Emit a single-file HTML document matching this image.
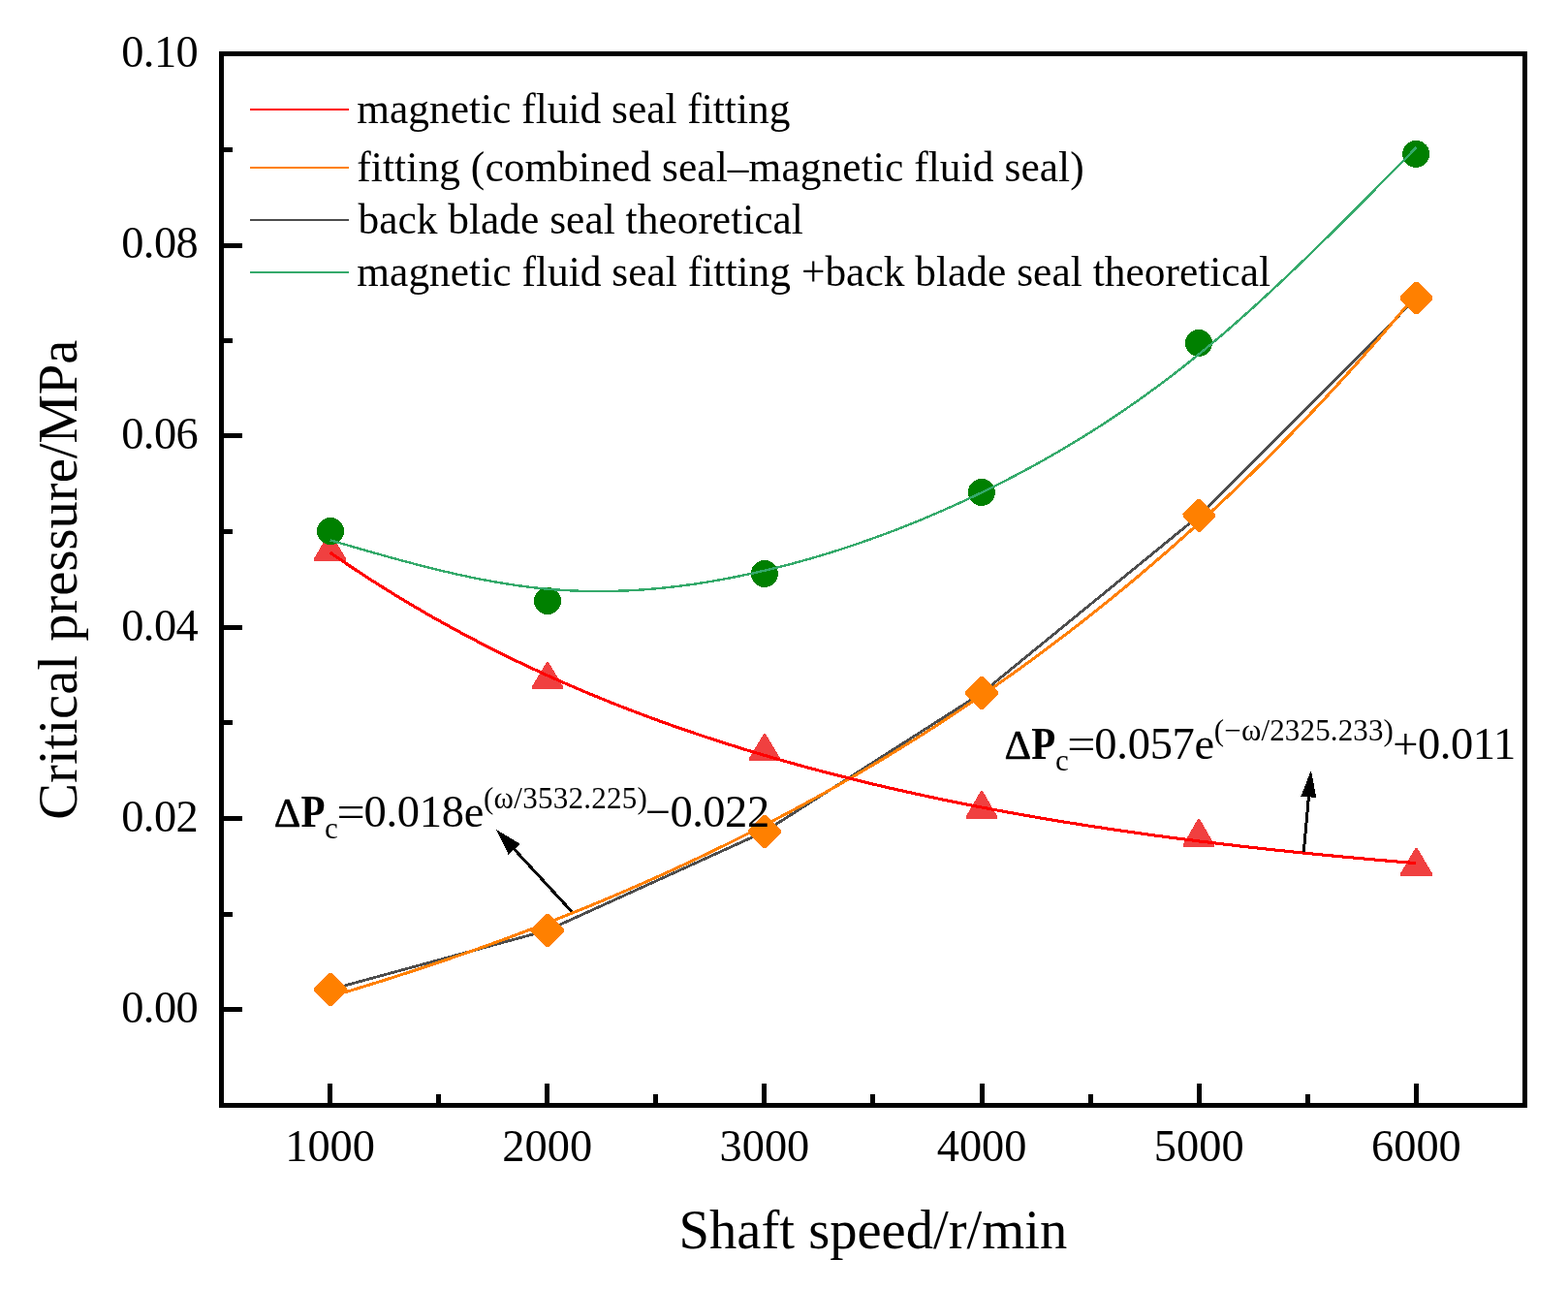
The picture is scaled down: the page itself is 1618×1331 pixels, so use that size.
<!DOCTYPE html>
<html lang="en"><head><meta charset="utf-8"><title>Critical pressure vs shaft speed</title>
<style>
html,body{margin:0;padding:0;background:#fff;}
body{width:1618px;height:1331px;overflow:hidden;}
svg{display:block;}
text{font-family:"Liberation Serif","DejaVu Serif",serif;fill:#000;white-space:pre;}
.tk{font-size:46.4px;}
.lg{font-size:43.4px;}
.ti{font-size:56.6px;}
.an{font-size:46.5px;}
.ss{font-size:31px;}
.b{font-weight:bold;}
.dl{font-size:43px;stroke:#000;stroke-width:0.6px;stroke-linejoin:round;}
</style></head><body>
<svg width="1618" height="1331" viewBox="0 0 1618 1331" role="img" aria-label="Critical pressure versus shaft speed">
<rect x="0" y="0" width="1618" height="1331" fill="#fff"/>
<g id="tri" fill="#F04040" shape-rendering="crispEdges">
<polygon points="339.50,550.10 341.50,550.10 356.90,575.90 356.90,578.90 324.10,578.90 324.10,575.90 339.50,550.10"/>
<polygon points="564.00,683.10 566.00,683.10 580.90,707.90 580.90,710.90 549.10,710.90 549.10,707.90 564.00,683.10"/>
<polygon points="788.00,757.10 790.00,757.10 804.90,781.90 804.90,784.90 773.10,784.90 773.10,781.90 788.00,757.10"/>
<polygon points="1012.00,816.10 1014.00,816.10 1028.90,841.90 1028.90,844.90 997.10,844.90 997.10,841.90 1012.00,816.10"/>
<polygon points="1236.00,845.10 1238.00,845.10 1252.90,870.90 1252.90,873.90 1221.10,873.90 1221.10,870.90 1236.00,845.10"/>
<polygon points="1460.50,875.10 1462.50,875.10 1477.90,900.90 1477.90,903.90 1445.10,903.90 1445.10,900.90 1460.50,875.10"/>
</g>
<path d="M340.90,1021.00 L564.90,959.90 L789.10,858.00 L1013.20,715.00 L1237.40,532.00 L1461.50,307.50" fill="none" stroke="#4D4D4D" stroke-width="2.8" stroke-linejoin="round" shape-rendering="crispEdges"/>
<path d="M340.58,1028.32 L349.92,1025.56 L359.26,1022.77 L368.60,1019.95 L377.94,1017.09 L387.28,1014.20 L396.62,1011.28 L405.97,1008.32 L415.31,1005.32 L424.65,1002.29 L433.99,999.23 L443.33,996.12 L452.67,992.98 L462.01,989.81 L471.35,986.59 L480.69,983.34 L490.03,980.05 L499.37,976.72 L508.71,973.35 L518.05,969.94 L527.39,966.49 L536.73,963.00 L546.07,959.47 L555.41,955.89 L564.75,952.28 L574.09,948.62 L583.43,944.92 L592.77,941.17 L602.11,937.38 L611.45,933.54 L620.79,929.66 L630.13,925.73 L639.47,921.76 L648.81,917.74 L658.15,913.67 L667.49,909.55 L676.83,905.38 L686.17,901.17 L695.51,896.90 L704.85,892.58 L714.19,888.22 L723.53,883.80 L732.88,879.32 L742.22,874.80 L751.56,870.22 L760.90,865.59 L770.24,860.90 L779.58,856.15 L788.92,851.35 L798.26,846.50 L807.60,841.58 L816.94,836.61 L826.28,831.58 L835.62,826.49 L844.96,821.33 L854.30,816.12 L863.64,810.85 L872.98,805.51 L882.32,800.11 L891.66,794.64 L901.00,789.11 L910.34,783.52 L919.68,777.85 L929.02,772.12 L938.36,766.33 L947.70,760.46 L957.04,754.53 L966.38,748.52 L975.72,742.44 L985.06,736.29 L994.40,730.07 L1003.74,723.77 L1013.08,717.40 L1022.42,710.96 L1031.76,704.43 L1041.10,697.83 L1050.44,691.16 L1059.78,684.40 L1069.12,677.56 L1078.47,670.64 L1087.81,663.64 L1097.15,656.55 L1106.49,649.39 L1115.83,642.13 L1125.17,634.79 L1134.51,627.37 L1143.85,619.85 L1153.19,612.25 L1162.53,604.55 L1171.87,596.77 L1181.21,588.89 L1190.55,580.92 L1199.89,572.85 L1209.23,564.69 L1218.57,556.43 L1227.91,548.07 L1237.25,539.62 L1246.59,531.06 L1255.93,522.40 L1265.27,513.64 L1274.61,504.78 L1283.95,495.81 L1293.29,486.73 L1302.63,477.55 L1311.97,468.26 L1321.31,458.86 L1330.65,449.34 L1339.99,439.71 L1349.33,429.97 L1358.67,420.12 L1368.01,410.14 L1377.35,400.05 L1386.69,389.84 L1396.03,379.50 L1405.38,369.05 L1414.72,358.47 L1424.06,347.76 L1433.40,336.93 L1442.74,325.97 L1452.08,314.88 L1461.42,303.65" fill="none" stroke="#FF8000" stroke-width="3.0" stroke-linejoin="round" shape-rendering="crispEdges"/>
<g id="dia" fill="#FF8000" shape-rendering="crispEdges">
<polygon points="339.40,1004.10 342.40,1004.10 357.80,1019.50 357.80,1022.50 342.40,1037.90 339.40,1037.90 324.00,1022.50 324.00,1019.50"/>
<polygon points="563.40,943.00 566.40,943.00 581.80,958.40 581.80,961.40 566.40,976.80 563.40,976.80 548.00,961.40 548.00,958.40"/>
<polygon points="787.60,841.10 790.60,841.10 806.00,856.50 806.00,859.50 790.60,874.90 787.60,874.90 772.20,859.50 772.20,856.50"/>
<polygon points="1011.70,698.10 1014.70,698.10 1030.10,713.50 1030.10,716.50 1014.70,731.90 1011.70,731.90 996.30,716.50 996.30,713.50"/>
<polygon points="1235.90,515.10 1238.90,515.10 1254.30,530.50 1254.30,533.50 1238.90,548.90 1235.90,548.90 1220.50,533.50 1220.50,530.50"/>
<polygon points="1460.00,290.60 1463.00,290.60 1478.40,306.00 1478.40,309.00 1463.00,324.40 1460.00,324.40 1444.60,309.00 1444.60,306.00"/>
</g>
<path d="M340.58,570.05 L349.92,576.49 L359.26,582.82 L368.60,589.04 L377.94,595.14 L387.28,601.14 L396.62,607.03 L405.97,612.82 L415.31,618.50 L424.65,624.09 L433.99,629.57 L443.33,634.96 L452.67,640.25 L462.01,645.44 L471.35,650.55 L480.69,655.56 L490.03,660.49 L499.37,665.33 L508.71,670.08 L518.05,674.74 L527.39,679.33 L536.73,683.83 L546.07,688.25 L555.41,692.60 L564.75,696.87 L574.09,701.06 L583.43,705.17 L592.77,709.22 L602.11,713.19 L611.45,717.09 L620.79,720.92 L630.13,724.69 L639.47,728.39 L648.81,732.02 L658.15,735.58 L667.49,739.09 L676.83,742.53 L686.17,745.91 L695.51,749.23 L704.85,752.49 L714.19,755.69 L723.53,758.84 L732.88,761.93 L742.22,764.97 L751.56,767.95 L760.90,770.88 L770.24,773.76 L779.58,776.58 L788.92,779.36 L798.26,782.08 L807.60,784.76 L816.94,787.39 L826.28,789.98 L835.62,792.51 L844.96,795.01 L854.30,797.45 L863.64,799.86 L872.98,802.22 L882.32,804.54 L891.66,806.82 L901.00,809.06 L910.34,811.26 L919.68,813.42 L929.02,815.54 L938.36,817.62 L947.70,819.67 L957.04,821.68 L966.38,823.66 L975.72,825.60 L985.06,827.50 L994.40,829.37 L1003.74,831.21 L1013.08,833.02 L1022.42,834.79 L1031.76,836.53 L1041.10,838.24 L1050.44,839.92 L1059.78,841.57 L1069.12,843.19 L1078.47,844.79 L1087.81,846.35 L1097.15,847.89 L1106.49,849.40 L1115.83,850.88 L1125.17,852.34 L1134.51,853.77 L1143.85,855.17 L1153.19,856.55 L1162.53,857.91 L1171.87,859.24 L1181.21,860.55 L1190.55,861.83 L1199.89,863.09 L1209.23,864.33 L1218.57,865.55 L1227.91,866.74 L1237.25,867.92 L1246.59,869.07 L1255.93,870.20 L1265.27,871.32 L1274.61,872.41 L1283.95,873.48 L1293.29,874.54 L1302.63,875.57 L1311.97,876.59 L1321.31,877.59 L1330.65,878.57 L1339.99,879.54 L1349.33,880.49 L1358.67,881.42 L1368.01,882.33 L1377.35,883.23 L1386.69,884.11 L1396.03,884.97 L1405.38,885.83 L1414.72,886.66 L1424.06,887.48 L1433.40,888.29 L1442.74,889.08 L1452.08,889.86 L1461.42,890.62" fill="none" stroke="#FF0000" stroke-width="3.1" stroke-linejoin="round" shape-rendering="crispEdges"/>
<g id="cir" fill="#008000" shape-rendering="crispEdges">
<circle cx="341.0" cy="548.0" r="14"/>
<circle cx="565.0" cy="620.0" r="14"/>
<circle cx="788.9" cy="592.0" r="14"/>
<circle cx="1012.9" cy="508.0" r="14"/>
<circle cx="1237.0" cy="353.9" r="14"/>
<circle cx="1461.2" cy="158.9" r="14"/>
</g>
<path d="M340.58,557.30 L347.59,559.34 L354.59,561.39 L361.60,563.42 L368.60,565.45 L375.61,567.47 L382.61,569.47 L389.62,571.45 L396.62,573.42 L403.63,575.37 L410.64,577.29 L417.64,579.18 L424.65,581.04 L431.65,582.87 L438.66,584.67 L445.66,586.42 L452.67,588.13 L459.67,589.80 L466.68,591.43 L473.68,593.00 L480.69,594.52 L487.69,595.99 L494.70,597.40 L501.70,598.75 L508.71,600.03 L515.71,601.25 L522.72,602.40 L529.72,603.48 L536.73,604.48 L543.73,605.41 L550.74,606.26 L557.74,607.02 L564.75,607.70 L571.76,608.29 L578.76,608.80 L585.77,609.22 L592.77,609.55 L599.78,609.80 L606.78,609.97 L613.79,610.05 L620.79,610.06 L627.80,609.99 L634.80,609.83 L641.81,609.60 L648.81,609.29 L655.82,608.91 L662.82,608.45 L669.83,607.92 L676.83,607.32 L683.84,606.65 L690.84,605.90 L697.85,605.09 L704.85,604.21 L711.86,603.26 L718.86,602.25 L725.87,601.17 L732.88,600.02 L739.88,598.82 L746.89,597.55 L753.89,596.22 L760.90,594.83 L767.90,593.38 L774.91,591.88 L781.91,590.32 L788.92,588.70 L795.92,587.03 L802.93,585.30 L809.93,583.52 L816.94,581.69 L823.94,579.80 L830.95,577.85 L837.95,575.85 L844.96,573.80 L851.96,571.69 L858.97,569.53 L865.97,567.31 L872.98,565.04 L879.98,562.71 L886.99,560.33 L893.99,557.90 L901.00,555.40 L908.01,552.86 L915.01,550.26 L922.02,547.60 L929.02,544.89 L936.03,542.13 L943.03,539.31 L950.04,536.44 L957.04,533.51 L964.05,530.52 L971.05,527.48 L978.06,524.39 L985.06,521.24 L992.07,518.04 L999.07,514.78 L1006.08,511.47 L1013.08,508.10 L1020.09,504.68 L1027.09,501.20 L1034.10,497.66 L1041.10,494.07 L1048.11,490.41 L1055.11,486.70 L1062.12,482.92 L1069.12,479.08 L1076.13,475.18 L1083.14,471.22 L1090.14,467.18 L1097.15,463.08 L1104.15,458.92 L1111.16,454.68 L1118.16,450.37 L1125.17,446.00 L1132.17,441.55 L1139.18,437.03 L1146.18,432.43 L1153.19,427.75 L1160.19,423.01 L1167.20,418.18 L1174.20,413.27 L1181.21,408.29 L1188.21,403.22 L1195.22,398.07 L1202.22,392.84 L1209.23,387.53 L1216.23,382.12 L1223.24,376.64 L1230.24,371.06 L1237.25,365.40 L1244.26,359.65 L1251.26,353.81 L1258.27,347.89 L1265.27,341.88 L1272.28,335.80 L1279.28,329.64 L1286.29,323.41 L1293.29,317.11 L1300.30,310.75 L1307.30,304.31 L1314.31,297.82 L1321.31,291.27 L1328.32,284.66 L1335.32,278.00 L1342.33,271.29 L1349.33,264.53 L1356.34,257.73 L1363.34,250.88 L1370.35,244.00 L1377.35,237.07 L1384.36,230.12 L1391.36,223.13 L1398.37,216.12 L1405.38,209.08 L1412.38,202.02 L1419.39,194.94 L1426.39,187.84 L1433.40,180.73 L1440.40,173.61 L1447.41,166.48 L1454.41,159.34 L1461.42,152.20" fill="none" stroke="#35AA6B" stroke-width="2.4" stroke-linejoin="round" shape-rendering="crispEdges"/>
<g id="axes" fill="#000" shape-rendering="crispEdges">
<rect x="226" y="53" width="1350" height="5"/>
<rect x="226" y="1138" width="1350" height="5"/>
<rect x="226" y="53" width="5" height="1090"/>
<rect x="1571" y="53" width="5" height="1090"/>
<rect x="338" y="1118" width="5" height="20"/>
<rect x="450" y="1129" width="5" height="9"/>
<rect x="562" y="1118" width="5" height="20"/>
<rect x="674" y="1129" width="5" height="9"/>
<rect x="786" y="1118" width="5" height="20"/>
<rect x="898" y="1129" width="5" height="9"/>
<rect x="1011" y="1118" width="5" height="20"/>
<rect x="1123" y="1129" width="5" height="9"/>
<rect x="1235" y="1118" width="5" height="20"/>
<rect x="1347" y="1129" width="5" height="9"/>
<rect x="1459" y="1118" width="5" height="20"/>
<rect x="231" y="1039" width="19" height="5"/>
<rect x="231" y="941" width="9" height="5"/>
<rect x="231" y="842" width="19" height="5"/>
<rect x="231" y="743" width="9" height="5"/>
<rect x="231" y="645" width="19" height="5"/>
<rect x="231" y="546" width="9" height="5"/>
<rect x="231" y="447" width="19" height="5"/>
<rect x="231" y="349" width="9" height="5"/>
<rect x="231" y="251" width="19" height="5"/>
<rect x="231" y="152" width="9" height="5"/>
</g>
<g id="legend" shape-rendering="crispEdges">
<rect x="258" y="112" width="102" height="2" fill="#FF0000"/>
<rect x="258" y="172" width="102" height="2" fill="#FF8000"/>
<rect x="258" y="226" width="102" height="2" fill="#4D4D4D"/>
<rect x="258" y="280" width="102" height="2" fill="#35AA6B"/>
</g>
<text class="tk" x="204.76" y="68.90" textLength="79.60" lengthAdjust="spacing" text-anchor="end">0.10</text>
<text class="tk" x="204.76" y="266.17" textLength="79.60" lengthAdjust="spacing" text-anchor="end">0.08</text>
<text class="tk" x="204.76" y="463.45" textLength="79.60" lengthAdjust="spacing" text-anchor="end">0.06</text>
<text class="tk" x="204.76" y="660.72" textLength="79.60" lengthAdjust="spacing" text-anchor="end">0.04</text>
<text class="tk" x="204.76" y="857.99" textLength="79.60" lengthAdjust="spacing" text-anchor="end">0.02</text>
<text class="tk" x="204.76" y="1055.26" textLength="79.60" lengthAdjust="spacing" text-anchor="end">0.00</text>
<text class="tk" x="340.58" y="1197.50" text-anchor="middle">1000</text>
<text class="tk" x="564.75" y="1197.50" text-anchor="middle">2000</text>
<text class="tk" x="788.92" y="1197.50" text-anchor="middle">3000</text>
<text class="tk" x="1013.08" y="1197.50" text-anchor="middle">4000</text>
<text class="tk" x="1237.25" y="1197.50" text-anchor="middle">5000</text>
<text class="tk" x="1461.42" y="1197.50" text-anchor="middle">6000</text>
<text class="lg" x="368.33" y="126.90">magnetic fluid seal fitting</text>
<text class="lg" x="368.33" y="187.20" textLength="750.36" lengthAdjust="spacing">fitting (combined seal–magnetic fluid seal)</text>
<text class="lg" x="369.43" y="240.80" textLength="459.48" lengthAdjust="spacing">back blade seal theoretical</text>
<text class="lg" x="368.33" y="294.50" textLength="942.64" lengthAdjust="spacing">magnetic fluid seal fitting +back blade seal theoretical</text>
<text class="ti" x="700.54" y="1287.60">Shaft speed/r/min</text>
<text class="ti" x="0.00" y="0.00" transform="translate(79.4,845.66) rotate(-90)">Critical pressure/MPa</text>
<text class="an"><tspan class="dl" x="282.70" y="852.60">Δ</tspan><tspan class="b" x="310.40" y="852.90" textLength="25.00" lengthAdjust="spacingAndGlyphs">P</tspan><tspan class="ss" x="335.08" y="864.70">c</tspan><tspan x="347.40" y="853.00" textLength="29.25" lengthAdjust="spacingAndGlyphs">=</tspan><tspan x="375.43" y="852.90" textLength="123.91" lengthAdjust="spacing">0.018e</tspan><tspan class="ss" x="498.97" y="834.20" textLength="168.98" lengthAdjust="spacing">(ω/3532.225)</tspan><tspan x="665.67" y="852.90" textLength="128.46" lengthAdjust="spacing">−0.022</tspan></text>
<text class="an"><tspan class="dl" x="1036.60" y="782.60">Δ</tspan><tspan class="b" x="1064.30" y="782.90" textLength="25.00" lengthAdjust="spacingAndGlyphs">P</tspan><tspan class="ss" x="1088.98" y="794.70">c</tspan><tspan x="1101.30" y="783.00" textLength="29.25" lengthAdjust="spacingAndGlyphs">=</tspan><tspan x="1129.33" y="782.90" textLength="123.91" lengthAdjust="spacing">0.057e</tspan><tspan class="ss" x="1252.87" y="764.20" textLength="185.00" lengthAdjust="spacing">(−ω/2325.233)</tspan><tspan x="1437.17" y="782.90" textLength="127.05" lengthAdjust="spacing">+0.011</tspan></text>
<g id="arrows" fill="#000" stroke="#000" shape-rendering="crispEdges">
<line x1="589.90" y1="940.50" x2="529.38" y2="874.80" stroke-width="3"/>
<polygon points="512.10,856.05 536.80,870.69 524.67,881.87" stroke="none"/>
<line x1="1345.30" y1="879.00" x2="1350.57" y2="820.30" stroke-width="3"/>
<polygon points="1352.85,794.90 1358.36,823.01 1342.42,821.57" stroke="none"/>
</g>
</svg>
</body></html>
